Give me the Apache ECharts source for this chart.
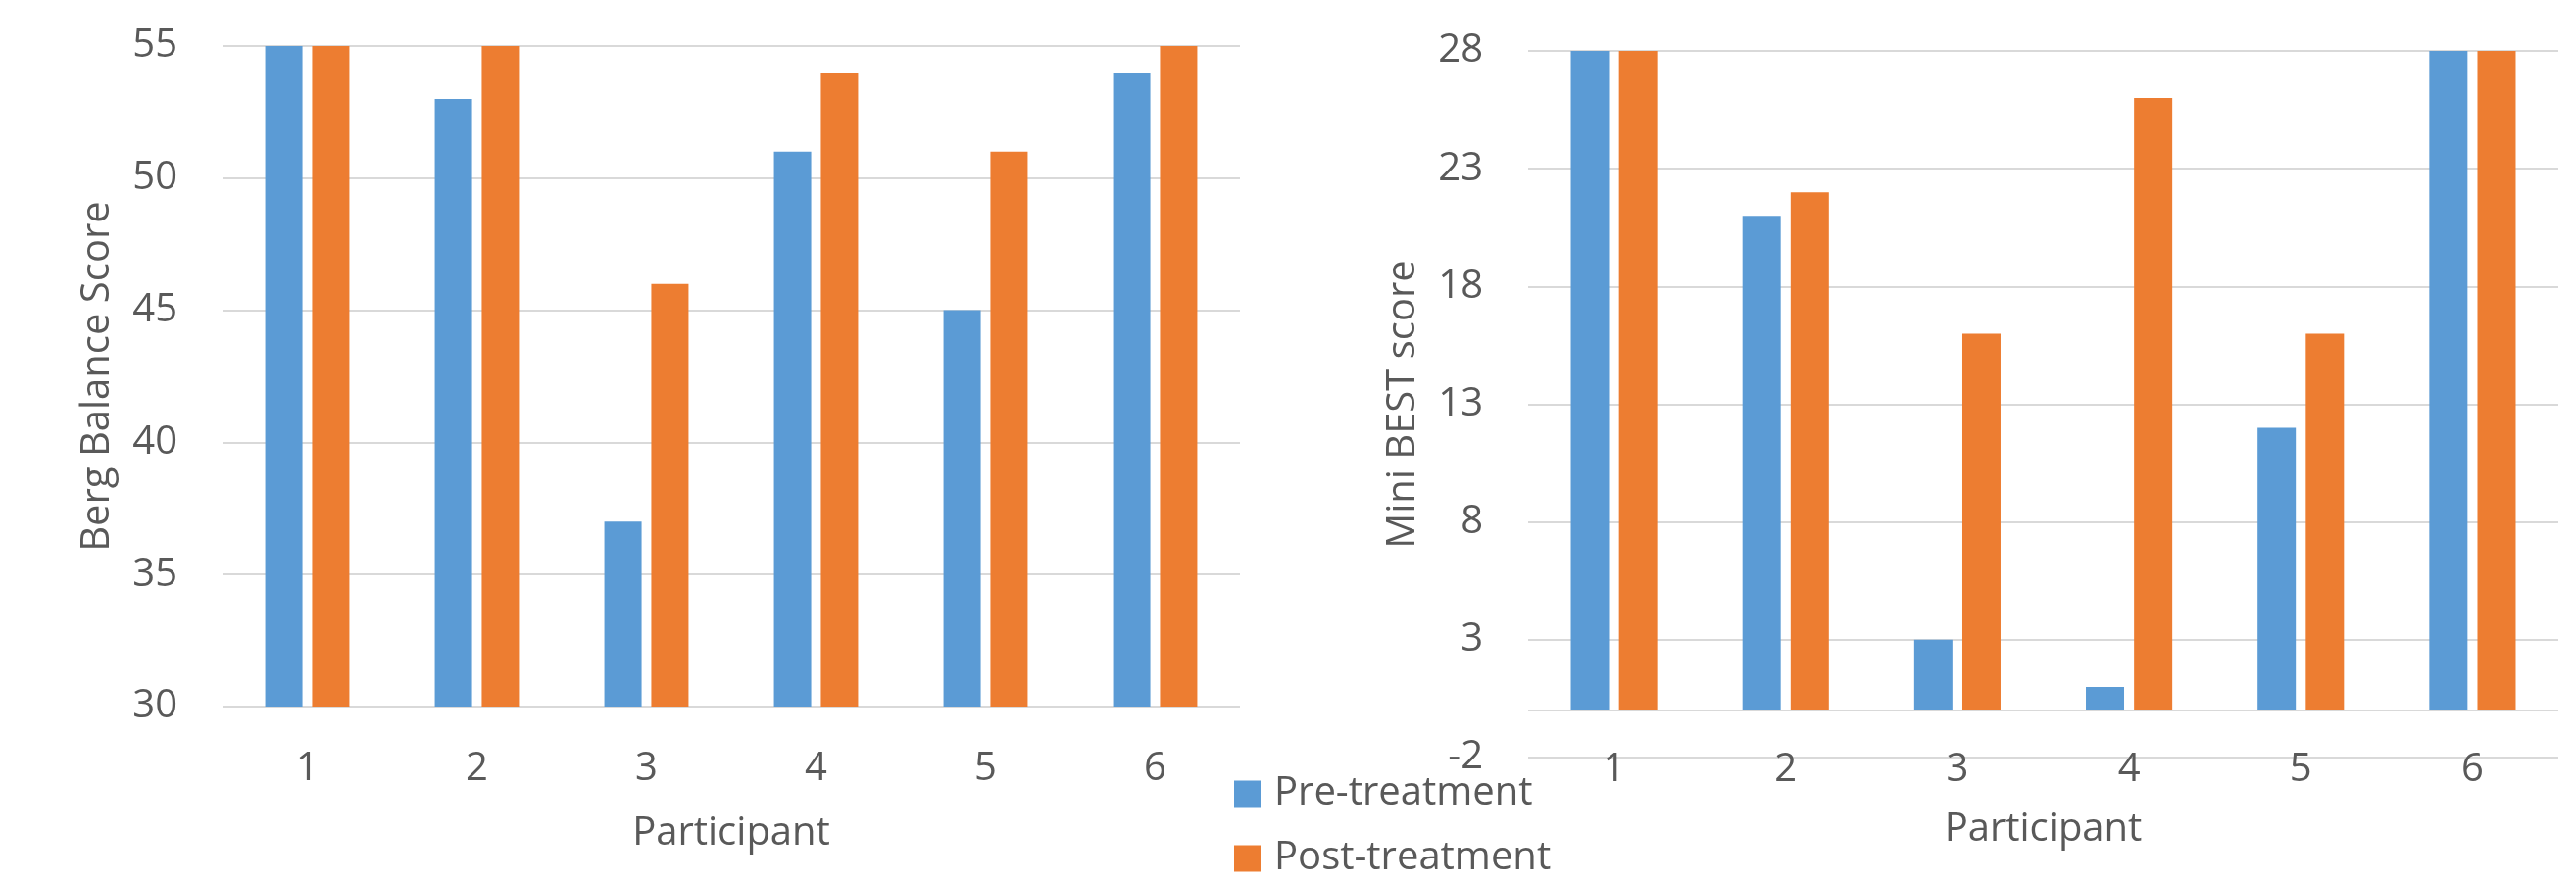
<!DOCTYPE html>
<html>
<head>
<meta charset="utf-8">
<script src="https://cdn.jsdelivr.net/npm/echarts@6/dist/echarts.min.js"></script>
<style>
  html, body { margin: 0; padding: 0; background: #fff; }
  #chart { width: 2628px; height: 899px; }
</style>
</head>
<body>
<div id="chart"></div>
<script>
// Participants and balance scores before / after treatment
const participants = ['1', '2', '3', '4', '5', '6'];
const seriesNames = ['Pre-treatment', 'Post-treatment'];

const bergPre = [55, 53, 37, 51, 45, 54];
const bergPost = [55, 55, 46, 54, 51, 55];

const miniBestPre = [28, 21, 3, 1, 12, 28];
const miniBestPost = [28, 22, 16, 26, 16, 28];

const bergTicks = { min: 30, max: 55, interval: 5 };
const miniBestTicks = { min: -2, max: 28, interval: 5 };

const BLUE = '#5B9BD5';
const ORANGE = '#ED7D31';
const TEXT = '#595959';
const GRID_LINE = '#D9D9D9';
const FONT = 'Open Sans';

const chart = echarts.init(document.getElementById('chart'));

function categoryAxis(gridIndex, labelMargin, nameGap) {
  return {
    type: 'category',
    gridIndex: gridIndex,
    data: participants,
    name: 'Participant',
    nameLocation: 'middle',
    nameGap: nameGap,
    nameTextStyle: { color: TEXT, fontSize: 40, fontFamily: FONT },
    axisLine: { show: false, onZero: false },
    axisTick: { show: false },
    axisLabel: { color: TEXT, fontSize: 40, fontFamily: FONT, margin: labelMargin }
  };
}

function valueAxis(gridIndex, ticks, name) {
  return {
    type: 'value',
    gridIndex: gridIndex,
    min: ticks.min,
    max: ticks.max,
    interval: ticks.interval,
    name: name,
    nameLocation: 'middle',
    nameGap: 107,
    nameTextStyle: { color: TEXT, fontSize: 40, fontFamily: FONT },
    axisLine: { show: false },
    axisTick: { show: false },
    axisLabel: { color: TEXT, fontSize: 40, fontFamily: FONT, margin: 46 },
    splitLine: { show: true, lineStyle: { color: GRID_LINE, width: 2 } }
  };
}

function barSeries(name, data, color, axisIndex, width, extra) {
  return Object.assign({
    name: name,
    type: 'bar',
    xAxisIndex: axisIndex,
    yAxisIndex: axisIndex,
    data: data,
    barWidth: width,
    barGap: '26%',
    itemStyle: { color: color },
    emphasis: { disabled: true }
  }, extra || {});
}

// Horizontal line at zero on the Mini BEST panel
const zeroLine = {
  markLine: {
    silent: true,
    symbol: 'none',
    label: { show: false },
    lineStyle: { color: GRID_LINE, width: 2, type: 'solid' },
    data: [{ yAxis: 0 }]
  }
};

chart.setOption({
  animation: false,
  backgroundColor: '#ffffff',
  textStyle: { fontFamily: FONT },
  legend: {
    orient: 'vertical',
    left: 1259,
    top: 790,
    padding: 0,
    itemWidth: 27,
    itemHeight: 27,
    itemGap: 26,
    icon: 'rect',
    data: seriesNames,
    textStyle: { color: TEXT, fontSize: 40, fontFamily: FONT, padding: [0, 0, 0, 9] }
  },
  grid: [
    { left: 227, top: 47, width: 1038, height: 674 },
    { left: 1559, top: 52, width: 1051, height: 721 }
  ],
  xAxis: [
    categoryAxis(0, 44, 110),
    categoryAxis(1, -7, 54)
  ],
  yAxis: [
    valueAxis(0, bergTicks, 'Berg Balance Score'),
    valueAxis(1, miniBestTicks, 'Mini BEST score')
  ],
  series: [
    barSeries(seriesNames[0], bergPre, BLUE, 0, 38),
    barSeries(seriesNames[1], bergPost, ORANGE, 0, 38),
    barSeries(seriesNames[0], miniBestPre, BLUE, 1, 39, zeroLine),
    barSeries(seriesNames[1], miniBestPost, ORANGE, 1, 39)
  ]
});
</script>
</body>
</html>
